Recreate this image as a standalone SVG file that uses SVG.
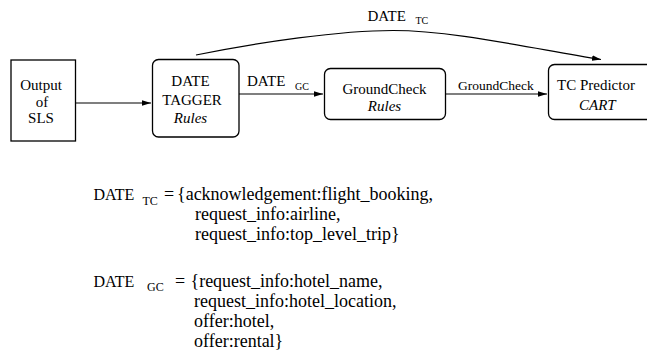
<svg xmlns="http://www.w3.org/2000/svg" width="647" height="353" viewBox="0 0 647 353" font-family="'Liberation Serif', 'Times New Roman', Times, serif">
  <style>
    text { font-family: 'Liberation Serif', 'Times New Roman', Times, serif; fill: #000; }
    .lbl { font-size: 15px; }
    .sub { font-size: 10px; }
    .sub2 { font-size: 12px; }
    .small { font-size: 13.5px; }
    .def { font-size: 18px; }
    .defname { font-size: 16px; }
    .it { font-style: italic; }
    .mid { text-anchor: middle; }
    .box { fill: #fff; stroke: #000; stroke-width: 1.3; }
    .edge { fill: none; stroke: #000; stroke-width: 1.2; marker-end: url(#arrow); }
  </style>
  <defs>
    <marker id="arrow" markerUnits="userSpaceOnUse" markerWidth="10" markerHeight="6" refX="9" refY="2.75" orient="auto">
      <path d="M0,0 L9,2.75 L0,5.5 z" fill="#000"/>
    </marker>
  </defs>

  <!-- connectors -->
  <g id="connectors">
    <path class="edge" d="M76,103 L151,103"/>
    <path class="edge" d="M239,94 L323,94"/>
    <path class="edge" d="M445,94 L547,94"/>
    <path class="edge" d="M196,55 C260,42 340,30.5 393,30.5 C450,30.5 520,46 601,59.5"/>
    <g id="edge-labels">
      <text class="lbl" x="247" y="86">DATE</text>
      <text class="sub" x="295" y="90">GC</text>
      <text class="small" x="458" y="89.5">GroundCheck</text>
      <text class="lbl" x="367.5" y="20.5">DATE</text>
      <text class="sub" x="415.5" y="24">TC</text>
    </g>
  </g>

  <!-- nodes -->
  <g id="output-sls">
    <rect class="box" x="11" y="60" width="64.5" height="81"/>
    <text class="lbl mid" x="41" y="90">Output</text>
    <text class="lbl mid" x="42" y="106.5">of</text>
    <text class="lbl mid" x="41" y="123">SLS</text>
  </g>

  <g id="date-tagger">
    <rect class="box" x="152.5" y="59.5" width="86.5" height="77.5" rx="6" ry="6"/>
    <text class="lbl mid" x="190.5" y="86">DATE</text>
    <text class="lbl mid" x="192" y="104.5">TAGGER</text>
    <text class="lbl mid it" x="190.5" y="123">Rules</text>
  </g>

  <g id="groundcheck">
    <rect class="box" x="324.5" y="68.5" width="121" height="51" rx="6" ry="6"/>
    <text class="lbl mid" x="384.5" y="93.5">GroundCheck</text>
    <text class="lbl mid it" x="384.5" y="111">Rules</text>
  </g>

  <g id="tc-predictor">
    <rect class="box" x="548.5" y="64.5" width="110" height="55" rx="6" ry="6"/>
    <text class="lbl" x="557" y="90">TC Predictor</text>
    <text class="lbl it" x="579" y="109.5">CART</text>
  </g>

  <!-- set definitions -->
  <g id="date-tc-def">
    <text class="defname" x="93.5" y="200">DATE</text>
    <text class="sub2" x="142.5" y="205">TC</text>
    <text class="def" x="164" y="200">=</text>
    <text class="def" x="177" y="200">{acknowledgement:flight_booking,</text>
    <text class="def" x="195" y="219.5">request_info:airline,</text>
    <text class="def" x="195" y="239.5">request_info:top_level_trip}</text>
  </g>

  <g id="date-gc-def">
    <text class="defname" x="93.5" y="286.5">DATE</text>
    <text class="sub2" x="147" y="290.5">GC</text>
    <text class="def" x="175" y="286.5">=</text>
    <text class="def" x="190.5" y="286.5">{request_info:hotel_name,</text>
    <text class="def" x="194" y="306.5">request_info:hotel_location,</text>
    <text class="def" x="194" y="326.5">offer:hotel,</text>
    <text class="def" x="194" y="346.5">offer:rental}</text>
  </g>
</svg>
